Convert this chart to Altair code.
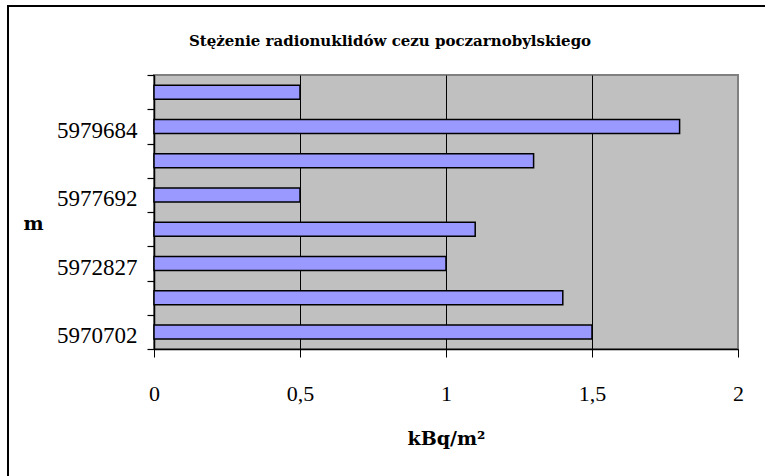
import json
import altair as alt
import pandas as pd

# categories from bottom to top (every other label is shown on the axis)
positions = ["5970702", "5971765", "5972827", "5975260", "5977692", "5978688", "5979684", "5980680"]
values = [1.5, 1.4, 1.0, 1.1, 0.5, 1.3, 1.8, 0.5]
shown_labels = ["5970702", "5972827", "5977692", "5979684"]
x_ticks = [0, 0.5, 1, 1.5, 2]
title_text = ["Stężenie radionuklidów cezu poczarnobylskiego"]

df = pd.DataFrame({"m": positions, "v": values})

FONT = "Liberation Serif"
BOLD_FONT = "DejaVu Serif"
W, H = 584, 274
PAD_L, PAD_T = 154, 75

label_expr = f"indexof({json.dumps(shown_labels)}, datum.value) >= 0 ? datum.value : ''"

bars = alt.Chart(df).mark_bar(fill="#9999FF", stroke="black", strokeWidth=1.5, size=14).encode(
    x=alt.X(
        "v:Q",
        scale=alt.Scale(domain=[0, 2], nice=False, zero=True),
        axis=alt.Axis(
            values=x_ticks,
            labelExpr="replace(format(datum.value, ''), '.', ',')",
            title="kBq/m²",
            titleFont=BOLD_FONT, titleFontSize=19, titleFontWeight="bold", titleColor="black",
            titleY=89, titleBaseline="middle",
            labelFont=FONT, labelFontSize=22, labelColor="black", labelPadding=26,
            labelFlush=False,
            grid=True,
            gridColor=alt.condition("datum.value == 2", alt.value("#808080"), alt.value("black")),
            gridWidth=1, gridOpacity=1,
            domainColor="black", domainWidth=1.5,
            tickColor="black", tickSize=8, tickWidth=1,
        ),
    ),
    y=alt.Y(
        "m:N",
        sort=positions[::-1],
        scale=alt.Scale(paddingInner=0, paddingOuter=0),
        axis=alt.Axis(
            labelExpr=label_expr,
            title="m",
            titleAngle=0,
            titleFont=BOLD_FONT, titleFontSize=19, titleFontWeight="bold", titleColor="black",
            titleX=-121, titleY=148, titleAlign="center", titleBaseline="middle",
            labelFont=FONT, labelFontSize=23, labelColor="black", labelPadding=10,
            labelOffset=4,
            tickBand="extent",
            grid=False,
            domainColor="black", domainWidth=1.5,
            tickColor="black", tickSize=7, tickWidth=1.2,
        ),
    ),
)

title = alt.Chart(pd.DataFrame({"t": title_text})).mark_text(
    font=BOLD_FONT, fontSize=15, fontWeight="bold", color="black",
    align="center", baseline="alphabetic",
).encode(
    text="t:N",
    x=alt.value(390 - PAD_L),
    y=alt.value(46 - PAD_T),
)

border = alt.Chart(pd.DataFrame({"k": [0]})).mark_rect(
    fill=None, stroke="black", strokeWidth=2
).encode(
    x=alt.value(8 - PAD_L),
    x2=alt.value(800 - PAD_L),
    y=alt.value(6 - PAD_T),
    y2=alt.value(500 - PAD_T),
)

chart = alt.layer(bars, title, border).properties(
    width=W,
    height=H,
    background="white",
    autosize=alt.AutoSizeParams(type="none"),
    padding={"left": PAD_L, "top": PAD_T, "right": 765 - PAD_L - W, "bottom": 476 - PAD_T - H},
).configure_view(
    fill="#C0C0C0", stroke="#808080", strokeWidth=2
)

chart.save("out.html", embed_options={"renderer": "svg", "actions": False})
